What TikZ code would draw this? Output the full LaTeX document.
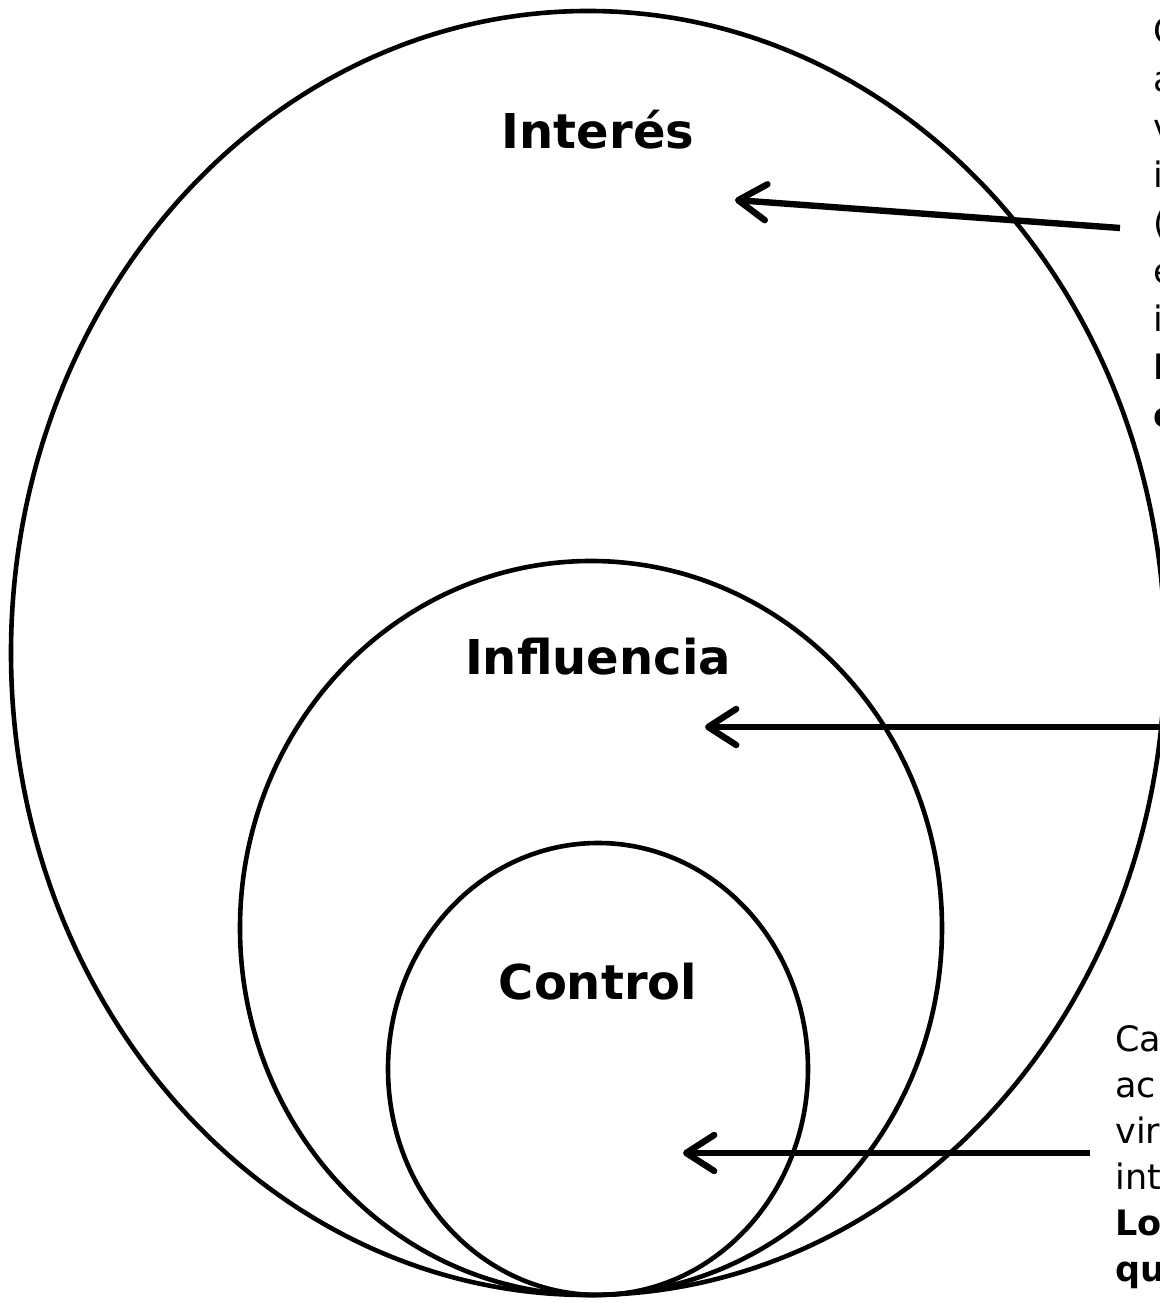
\documentclass[tikz,border=0pt]{standalone}
\usepackage{fontspec}
\setmainfont{DejaVu Sans}
\usetikzlibrary{arrows.meta}

\begin{document}
\begin{tikzpicture}[x=0.5pt, y=0.5pt,
    ring/.style={line width=2.3pt},
    pointer/.style={line width=3.2pt, -{Straight Barb[length=14pt, width=18pt, round]}},
    label/.style={font=\fontsize{24}{28}\selectfont\bfseries, inner sep=0pt},
    side/.style={font=\fontsize{17.5}{24}\selectfont, align=left, anchor=north west, inner sep=0pt}]
  \useasboundingbox (0,0) rectangle (1160,1303);
  \draw[ring] (588,650) ellipse [x radius=577, y radius=642];
  \draw[ring] (591,375) ellipse [x radius=351, y radius=367];
  \draw[ring] (598,234) ellipse [x radius=210, y radius=226];
  \node[label] (interes) at (598,1173) {Interés};
  \node[label] (influencia) at (598,646) {Influencia};
  \node[label] (control) at (598,321) {Control};
  \node[side] (topnote) at (1153,1286) {C\\a\\v\\i\\(\\e\\i\\\textbf{L}\\\textbf{c}};
  \node[side, font=\fontsize{17.5}{23}\selectfont] (lownote) at (1115,278) {Ca\\ac\\vir\\int\\\textbf{Lo}\\\textbf{qu}};
  \coordinate (topstart) at (1120,1075);
  \coordinate (topend) at (735,1103);
  \coordinate (midstart) at (1165,576);
  \coordinate (midend) at (705,576);
  \coordinate (lowstart) at (1090,150);
  \coordinate (lowend) at (683,150);
  \draw[pointer] (topstart) -- (topend);
  \draw[pointer] (midstart) -- (midend);
  \draw[pointer] (lowstart) -- (lowend);
\end{tikzpicture}
\end{document}
